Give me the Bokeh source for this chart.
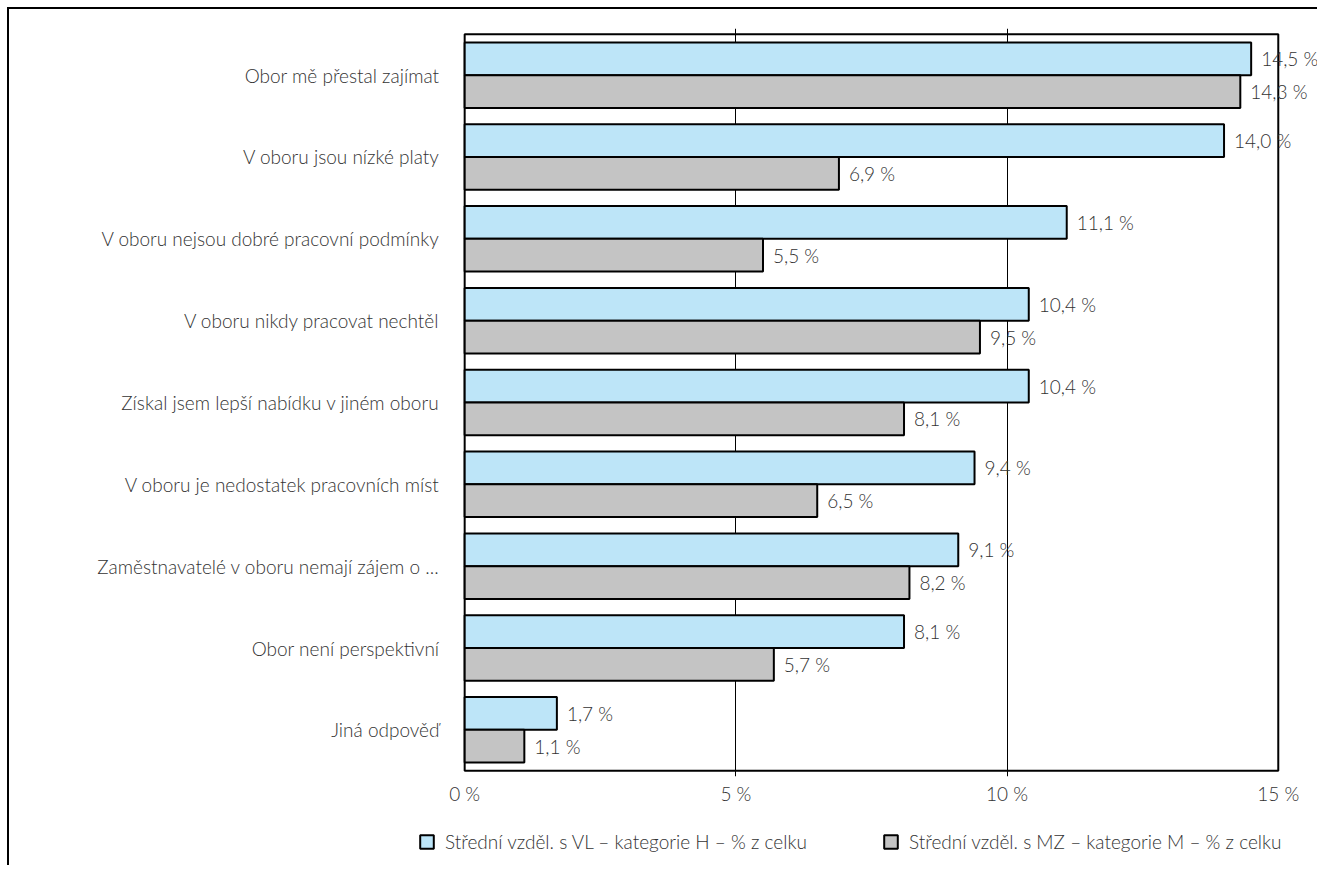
from bokeh.plotting import figure
from bokeh.models import (ColumnDataSource, FactorRange, FixedTicker, Legend, LegendItem,
                          LabelSet, Range1d)
from bokeh.transform import dodge
from bokeh.core.properties import value
from bokeh.embed import file_html
from bokeh.resources import INLINE

categories = [
    "Obor mě přestal zajímat",
    "V oboru jsou nízké platy",
    "V oboru nejsou dobré pracovní podmínky",
    "V oboru nikdy pracovat nechtěl",
    "Získal jsem lepší nabídku v jiném oboru",
    "V oboru je nedostatek pracovních míst",
    "Zaměstnavatelé v oboru nemají zájem o ...",
    "Obor není perspektivní",
    "Jiná odpověď",
]
series_h = [14.5, 14.0, 11.1, 10.4, 10.4, 9.4, 9.1, 8.1, 1.7]
series_m = [14.3, 6.9, 5.5, 9.5, 8.1, 6.5, 8.2, 5.7, 1.1]
series_names = [
    "Střední vzděl. s VL – kategorie H – % z celku",
    "Střední vzděl. s MZ – kategorie M – % z celku",
]
x_ticks = [0, 5, 10, 15]
x_tick_labels = ["0 %", "5 %", "10 %", "15 %"]

FONT = "Lato Light"
TXT = "#333333"
BLUE = "#bde5f8"
GRAY = "#c4c4c4"
FS = "19px"


def fmt(v):
    return f"{v:.1f}".replace(".", ",") + " %"


src = ColumnDataSource(dict(
    cat=categories,
    h=series_h,
    m=series_m,
    hl=[fmt(v) for v in series_h],
    ml=[fmt(v) for v in series_m],
))

p = figure(
    width=1310, height=798,
    y_range=FactorRange(factors=list(reversed(categories)), range_padding=0.07,
                        range_padding_units="absolute"),
    x_range=(-0.04, 15.76),
    output_backend="svg", toolbar_location=None,
    min_border_left=453, min_border_top=19, min_border_right=0, min_border_bottom=30,
)
p.outline_line_color = None
p.styles = {"border-top": "2px solid #000000", "border-left": "2px solid #000000",
            "margin-left": "7px", "margin-top": "7px"}

# plot box: from first to last tick, around the category bands
box = ColumnDataSource(dict(left=[x_ticks[0]], right=[x_ticks[-1]],
                            top=[categories[0]], bottom=[categories[-1]]))
p.quad(left="left", right="right", top=dodge("top", 0.5, range=p.y_range),
       bottom=dodge("bottom", -0.5, range=p.y_range), source=box,
       fill_color=None, line_color="black", line_width=2)

r_h = p.hbar(y=dodge("cat", 0.2, range=p.y_range), right="h", left=0, height=0.4,
             source=src, fill_color=BLUE, line_color="black", line_width=2)
r_m = p.hbar(y=dodge("cat", -0.2, range=p.y_range), right="m", left=0, height=0.4,
             source=src, fill_color=GRAY, line_color="black", line_width=2)

for xf, off, tf in [("h", 0.2, "hl"), ("m", -0.2, "ml")]:
    ls = LabelSet(x=xf, y=dodge("cat", off, range=p.y_range), text=tf, source=src,
                  x_offset=10, text_align="left", text_baseline="middle",
                  text_font=value(FONT), text_font_size=FS, text_color=TXT)
    p.add_layout(ls)

p.ygrid.visible = False
p.xgrid.ticker = FixedTicker(ticks=x_ticks[1:-1])
p.xgrid.grid_line_color = "black"
p.xgrid.grid_line_width = 1

p.xaxis.ticker = FixedTicker(ticks=x_ticks)
p.xaxis.major_label_overrides = {t: l for t, l in zip(x_ticks, x_tick_labels)}
p.xaxis.axis_line_color = None
p.xaxis.major_tick_line_color = None
p.xaxis.minor_tick_line_color = None
p.xaxis.major_tick_out = 0
p.xaxis.major_label_standoff = 5
p.xaxis.major_label_text_font = FONT
p.xaxis.major_label_text_font_size = FS
p.xaxis.major_label_text_color = TXT

p.yaxis.axis_line_color = None
p.yaxis.major_tick_line_color = None
p.yaxis.major_tick_out = 0
p.yaxis.major_label_standoff = 23
p.yaxis.major_label_text_font = FONT
p.yaxis.major_label_text_font_size = FS
p.yaxis.major_label_text_color = TXT

# legend strip (separate root, so its frame is not aligned to the chart frame)
leg = figure(width=1310, height=60, x_range=Range1d(-2, -1),
             y_range=FactorRange(factors=list(reversed(categories))),
             x_axis_type=None, y_axis_type=None, output_backend="svg",
             toolbar_location=None, min_border=0,
             min_border_left=0, min_border_right=0, min_border_top=0, min_border_bottom=0)
leg.outline_line_color = None
leg.grid.visible = False
leg.styles = {"border-left": "2px solid #000000", "margin-left": "7px"}
lr_h = leg.hbar(y="cat", right="h", left=0, height=0.4, source=src,
                fill_color=BLUE, line_color="black", line_width=2)
lr_m = leg.hbar(y="cat", right="m", left=0, height=0.4, source=src,
                fill_color=GRAY, line_color="black", line_width=2)
for rend, name, loc in [(lr_h, series_names[0], (409, 12)), (lr_m, series_names[1], (873, 12))]:
    lg = Legend(items=[LegendItem(label=name, renderers=[rend])], location=loc,
                orientation="horizontal", padding=0, margin=0,
                glyph_width=17, glyph_height=17, label_standoff=10,
                label_text_font=FONT, label_text_font_size=FS, label_text_color=TXT,
                border_line_color=None, background_fill_alpha=0)
    leg.add_layout(lg)

open("out.html", "w").write(file_html([p, leg], INLINE))
